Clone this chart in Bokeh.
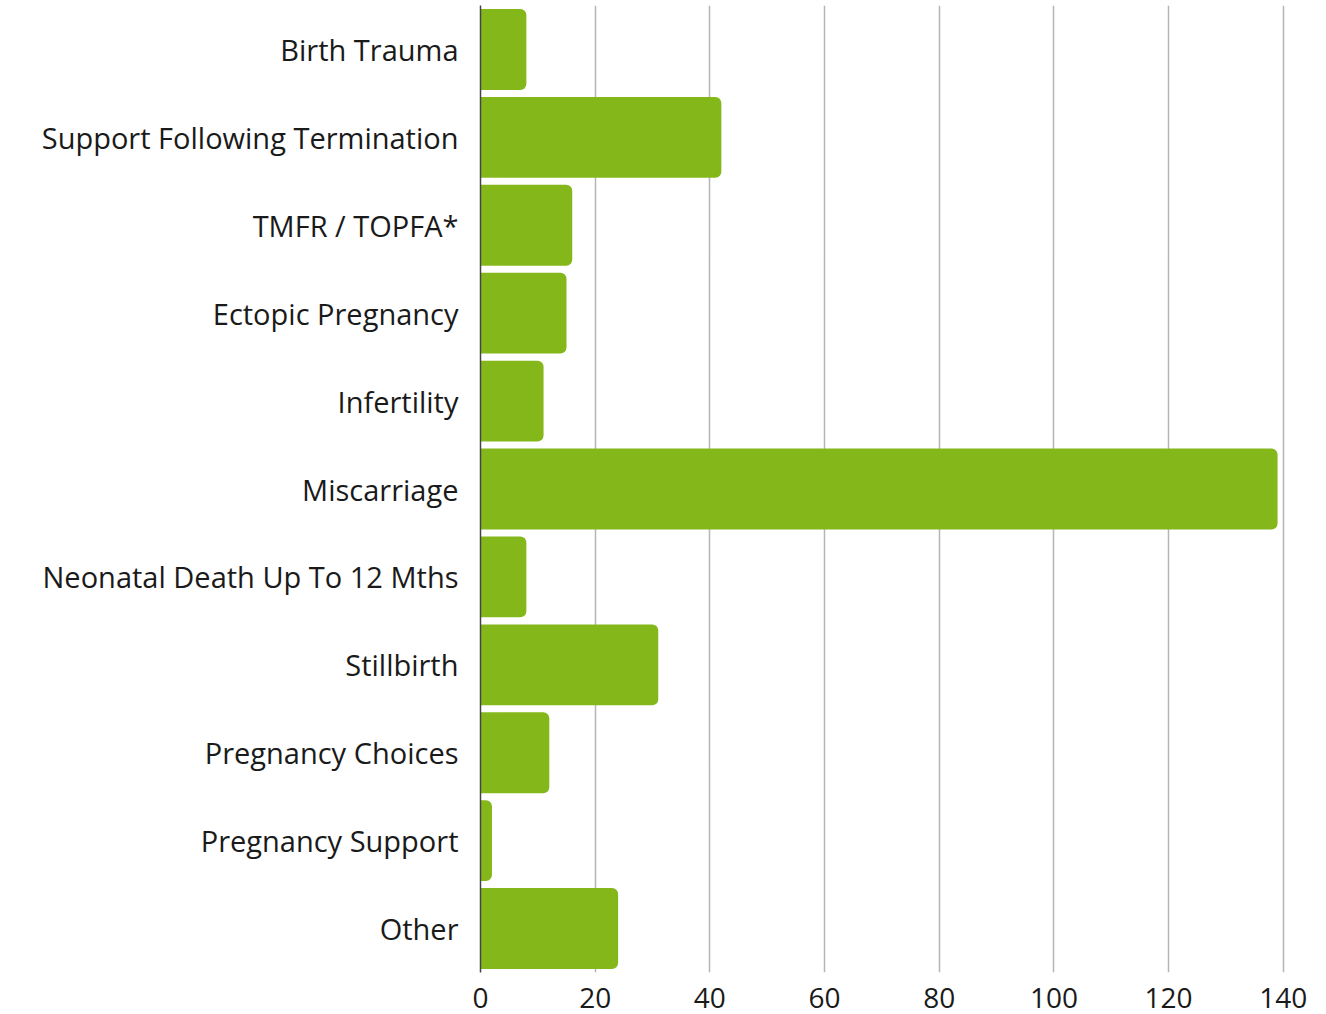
from bokeh.plotting import figure
from bokeh.models import ColumnDataSource, FixedTicker
from bokeh.embed import file_html
from bokeh.resources import INLINE

categories = ["Birth Trauma", "Support Following Termination", "TMFR / TOPFA*",
              "Ectopic Pregnancy", "Infertility", "Miscarriage",
              "Neonatal Death Up To 12 Mths", "Stillbirth", "Pregnancy Choices",
              "Pregnancy Support", "Other"]
values = [8, 42, 16, 15, 11, 139, 8, 31, 12, 2, 24]
x_ticks = [0, 20, 40, 60, 80, 100, 120, 140]

FONT = "Open Sans"
GREEN = "#84b81a"

src = ColumnDataSource(dict(cat=categories, val=values))

p = figure(y_range=list(reversed(categories)), x_range=(0, 142.3),
           width=1326, height=1014, output_backend="svg", toolbar_location=None,
           min_border_left=480, min_border_top=5, min_border_right=30, min_border_bottom=42)
p.outline_line_color = None
p.hbar(y="cat", right="val", left=0, height=0.92, source=src,
       fill_color=GREEN, line_color=None, border_radius=(0, 6, 6, 0))

p.xaxis.ticker = FixedTicker(ticks=x_ticks)
p.xgrid.ticker = FixedTicker(ticks=x_ticks)
p.xgrid.grid_line_color = "#b5b5b5"
p.xgrid.grid_line_width = 1.5
p.ygrid.grid_line_color = None

p.xaxis.axis_line_color = None
p.xaxis.major_tick_line_color = None
p.xaxis.minor_tick_line_color = None
p.xaxis.major_label_text_font = FONT
p.xaxis.major_label_text_font_size = "28px"
p.xaxis.major_label_text_color = "#1a1a1a"
p.xaxis.major_label_standoff = 9

p.yaxis.axis_line_color = "#444444"
p.yaxis.axis_line_width = 1.5
p.yaxis.major_tick_line_color = None
p.yaxis.minor_tick_line_color = None
p.yaxis.major_label_text_font = FONT
p.yaxis.major_label_text_font_size = "29px"
p.yaxis.major_label_text_color = "#1a1a1a"
p.yaxis.major_label_standoff = 16

open("out.html", "w").write(file_html(p, INLINE))
